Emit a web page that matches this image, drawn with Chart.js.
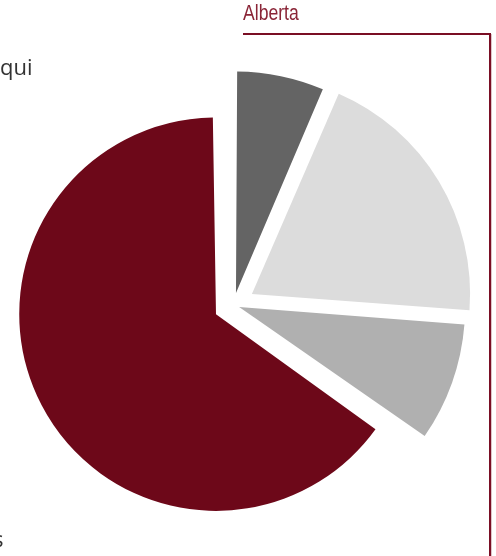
<!DOCTYPE html>
<html lang="fr">
<head>
<meta charset="utf-8">
<title>Alberta</title>
<script src="https://cdn.jsdelivr.net/npm/chart.js@4/dist/chart.umd.min.js"></script>
<style>
  html, body { margin: 0; padding: 0; background: #ffffff; overflow: hidden; }
  #wrap { position: relative; width: 496px; height: 556px; overflow: hidden; }
  #wrap canvas { position: absolute; left: 0; top: 0; }
  .txt { position: absolute; white-space: nowrap; margin: 0; }
  #lblQui { left: 0px; top: 55px; font: 22px/22px "Open Sans", "Noto Sans", sans-serif; color: #333333; }
  #lblS { left: -7px; top: 527px; font: 22px/22px "Open Sans", "Noto Sans", sans-serif; color: #333333; }
  #lblAlberta {
    left: 243px; top: 2px; font: 22px/22px "Liberation Sans", Arimo, sans-serif; color: #8a2537;
    transform: scaleX(0.8); transform-origin: 0 0;
  }
  #bracket {
    position: absolute; left: 243px; top: 33px; width: 248px; height: 600px;
    box-sizing: border-box; border-top: 2.5px solid #7a0e24; border-right: 2.5px solid #7a0e24;
    box-shadow: 1px 1px 0 rgba(122, 14, 36, 0.25);
  }
</style>
</head>
<body>
<div id="wrap">
  <div id="bracket"></div>
  <div class="txt" id="lblAlberta">Alberta</div>
  <div class="txt" id="lblQui">qui</div>
  <div class="txt" id="lblS">s</div>
</div>
<script>
// Shares of the four segments (percent), clockwise from the top.
const categories = ['Segment 1', 'Segment 2', 'Segment 3', 'Segment 4'];
const shares = [6.5, 19.7, 8.5, 65.3];

// Look of each wedge: fill, explode distance and radius (pixels).
const wedgeStyle = [
  { color: '#646464', offset: 49, radius: 214 },
  { color: '#dcdcdc', offset: 86, radius: 217 },
  { color: '#b0b0b0', offset: 24, radius: 223 },
  { color: '#6d0819', offset: 79, radius: 177 }
];
const clear = 'rgba(0,0,0,0)';
const wrap = document.getElementById('wrap');

// One pie layer per wedge, all sharing the same centre, so that each wedge
// can keep its own radius while the angles all come from the same shares.
wedgeStyle.forEach((style, k) => {
  const canvas = document.createElement('canvas');
  canvas.width = 496;
  canvas.height = 556;
  wrap.insertBefore(canvas, wrap.firstChild);
  new Chart(canvas, {
    type: 'pie',
    data: {
      labels: categories,
      datasets: [{
        data: shares,
        backgroundColor: shares.map((_, i) => (i === k ? style.color : clear)),
        offset: shares.map((_, i) => (i === k ? style.offset : 0)),
        borderWidth: 0,
        clip: false
      }]
    },
    options: {
      responsive: false,
      animation: false,
      events: [],
      radius: style.radius,
      layout: { padding: { left: 0, right: 29, top: 54, bottom: 0 } },
      plugins: { legend: { display: false }, tooltip: { enabled: false }, title: { display: false } }
    }
  });
});
</script>
</body>
</html>
